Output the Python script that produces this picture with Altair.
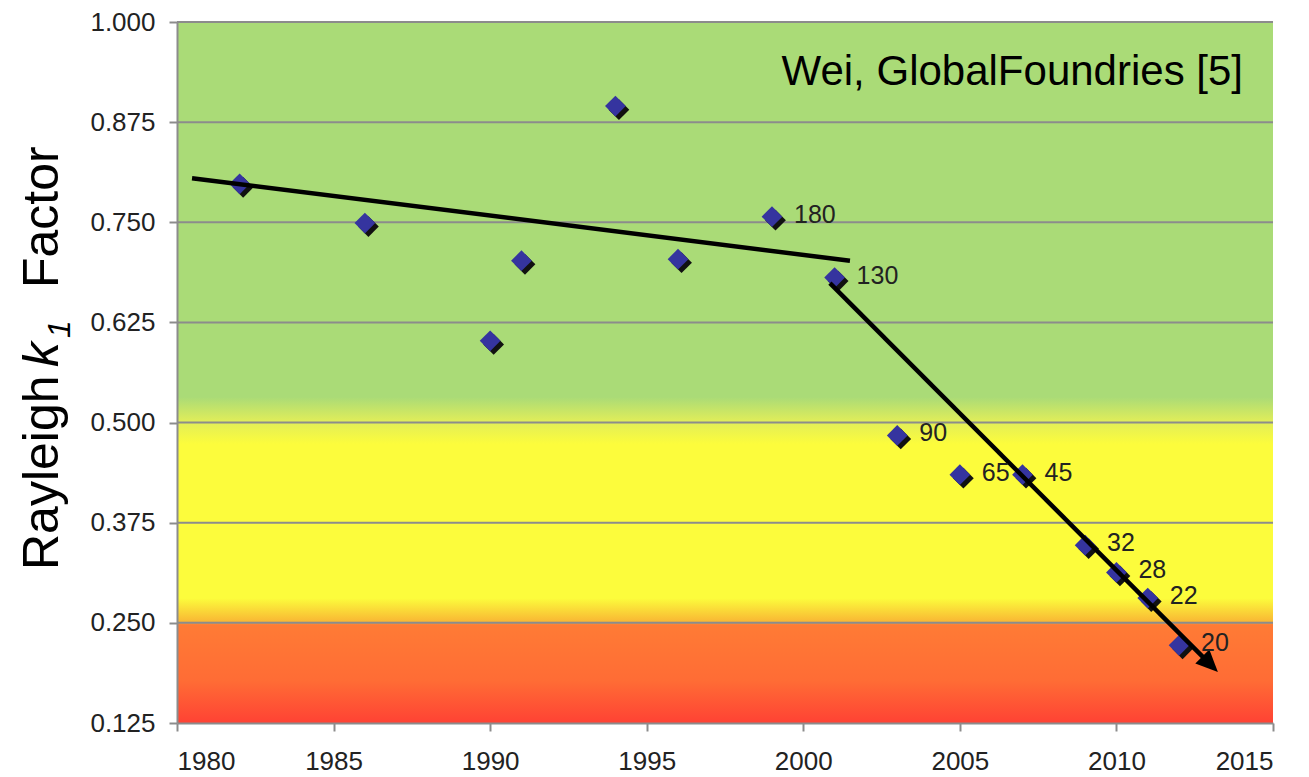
import altair as alt
import pandas as pd

# ---- data ----
years = [1982, 1986, 1990, 1991, 1994, 1996, 1999, 2001, 2003, 2005, 2007, 2009, 2010, 2011, 2012]
k1 = [0.798, 0.749, 0.602, 0.702, 0.895, 0.704, 0.757, 0.681, 0.484, 0.435, 0.435, 0.347, 0.313, 0.281, 0.222]
node_labels = ["", "", "", "", "", "", "180", "130", "90", "65", "45", "32", "28", "22", "20"]

trend1_x = [1980.48, 2001.49]
trend1_y = [0.805, 0.702]
trend2_x = [2000.85, 2012.99]
trend2_y = [0.674, 0.1986]
arrow_tip_x = [2013.24]
arrow_tip_y = [0.1886]

y_ticks = [0.125, 0.25, 0.375, 0.5, 0.625, 0.75, 0.875, 1.0]
x_ticks = [1980, 1985, 1990, 1995, 2000, 2005, 2010, 2015]
x_domain = [1980, 2015]
y_domain = [0.125, 1.0]

FONT = "Liberation Sans"
W, H = 1096, 701

pts = pd.DataFrame({"year": years, "k1": k1, "label": node_labels})
t1 = pd.DataFrame({"year": trend1_x, "k1": trend1_y})
t2 = pd.DataFrame({"year": trend2_x, "k1": trend2_y})
tip = pd.DataFrame({"year": arrow_tip_x, "k1": arrow_tip_y})
bg = pd.DataFrame({"year": [x_domain[0]], "year2": [x_domain[1]],
                   "k1": [y_domain[0]], "k1b": [y_domain[1]]})
grid = pd.DataFrame({"k1": y_ticks[1:]})
one = pd.DataFrame({"a": [0]})

xs = alt.Scale(domain=x_domain, nice=False, zero=False)
ys = alt.Scale(domain=y_domain, nice=False, zero=False)

x_axis = alt.Axis(values=x_ticks, format="d", grid=False, zindex=1, title=None,
                  domainColor="#8c8c8c", domainWidth=2,
                  tickColor="#8c8c8c", tickWidth=2, tickSize=8,
                  labelFontSize=26, labelColor="#222222", labelPadding=17,
                  labelFont=FONT)
y_axis = alt.Axis(values=y_ticks, format=".3f", grid=False, zindex=1, title=None,
                  domainColor="#8c8c8c", domainWidth=2,
                  tickColor="#8c8c8c", tickWidth=2, tickSize=8,
                  labelFontSize=26, labelColor="#222222", labelPadding=14,
                  labelFont=FONT)

X = alt.X("year:Q", scale=xs, axis=x_axis, title=None)
Y = alt.Y("k1:Q", scale=ys, axis=y_axis, title=None)

gradient = alt.LinearGradient(
    gradient="linear", x1=0, x2=0, y1=0, y2=1,
    stops=[
        alt.GradientStop(color="#AADB77", offset=0.0),
        alt.GradientStop(color="#AADB77", offset=0.535),
        alt.GradientStop(color="#E2EE58", offset=0.571),
        alt.GradientStop(color="#FCFC3C", offset=0.602),
        alt.GradientStop(color="#FCFC3C", offset=0.822),
        alt.GradientStop(color="#F9B834", offset=0.855),
        alt.GradientStop(color="#FF7B35", offset=0.860),
        alt.GradientStop(color="#FF6C35", offset=0.94),
        alt.GradientStop(color="#FF4234", offset=1.0),
    ],
)

background = alt.Chart(bg).mark_rect(color=gradient).encode(
    x=X, x2="year2:Q", y=Y, y2="k1b:Q",
)

gridlines = alt.Chart(grid).mark_rule(color="#8c8c8c", strokeWidth=2).encode(y=Y)

shadow_path = "M-0.66,0.34L0.34,-0.66L1.34,0.34L0.34,1.34Z"
shadows = alt.Chart(pts).mark_point(shape=shadow_path, filled=True, size=430,
                                     color="#111111", opacity=1).encode(x=X, y=Y)
diamonds = alt.Chart(pts).mark_point(shape="diamond", filled=True, size=430,
                                      color="#35349F", opacity=1).encode(x=X, y=Y)

line1 = alt.Chart(t1).mark_line(color="black", strokeWidth=4.5, strokeCap="butt").encode(x=X, y=Y)
line2 = alt.Chart(t2).mark_line(color="black", strokeWidth=4.5, strokeCap="butt").encode(x=X, y=Y)
arrow = alt.Chart(tip).mark_point(shape="M0,0L-2,-0.9L-2,0.9Z", filled=True, size=484,
                                  color="black", opacity=1, angle=45).encode(x=X, y=Y)

labels = alt.Chart(pts).mark_text(align="left", baseline="middle", dx=22, dy=-2,
                                  fontSize=25, font=FONT, color="#222222").encode(
    x=X, y=Y, text="label:N",
)

source = alt.Chart(one).mark_text(align="right", baseline="alphabetic", fontSize=42,
                                  font=FONT, color="black", text="Wei, GlobalFoundries [5]").encode(
    x=alt.value(1066), y=alt.value(63),
)

def title_piece(txt, xpos, ypos, size, style="normal"):
    return alt.Chart(one).mark_text(align="left", baseline="alphabetic", angle=270,
                                    fontSize=size, font=FONT, fontStyle=style,
                                    color="black", text=txt).encode(
        x=alt.value(xpos), y=alt.value(ypos),
    )

t_a = title_piece("Rayleigh", -119, 548, 50)
t_b = title_piece("k", -119, 345, 50, "italic")
t_c = title_piece("1", -107, 316, 32, "italic")
t_d = title_piece("Factor", -119, 266, 50)

chart = alt.layer(
    background, gridlines, shadows, diamonds, line1, line2, arrow, labels,
    source, t_a, t_b, t_c, t_d,
).properties(
    width=W, height=H,
    autosize=alt.AutoSizeParams(type="none"),
    padding={"left": 169, "top": 14, "right": 28, "bottom": 54},
    background="white",
).configure(font=FONT).configure_view(stroke="transparent")

chart.save("out.html", embed_options={"renderer": "svg", "actions": False})
